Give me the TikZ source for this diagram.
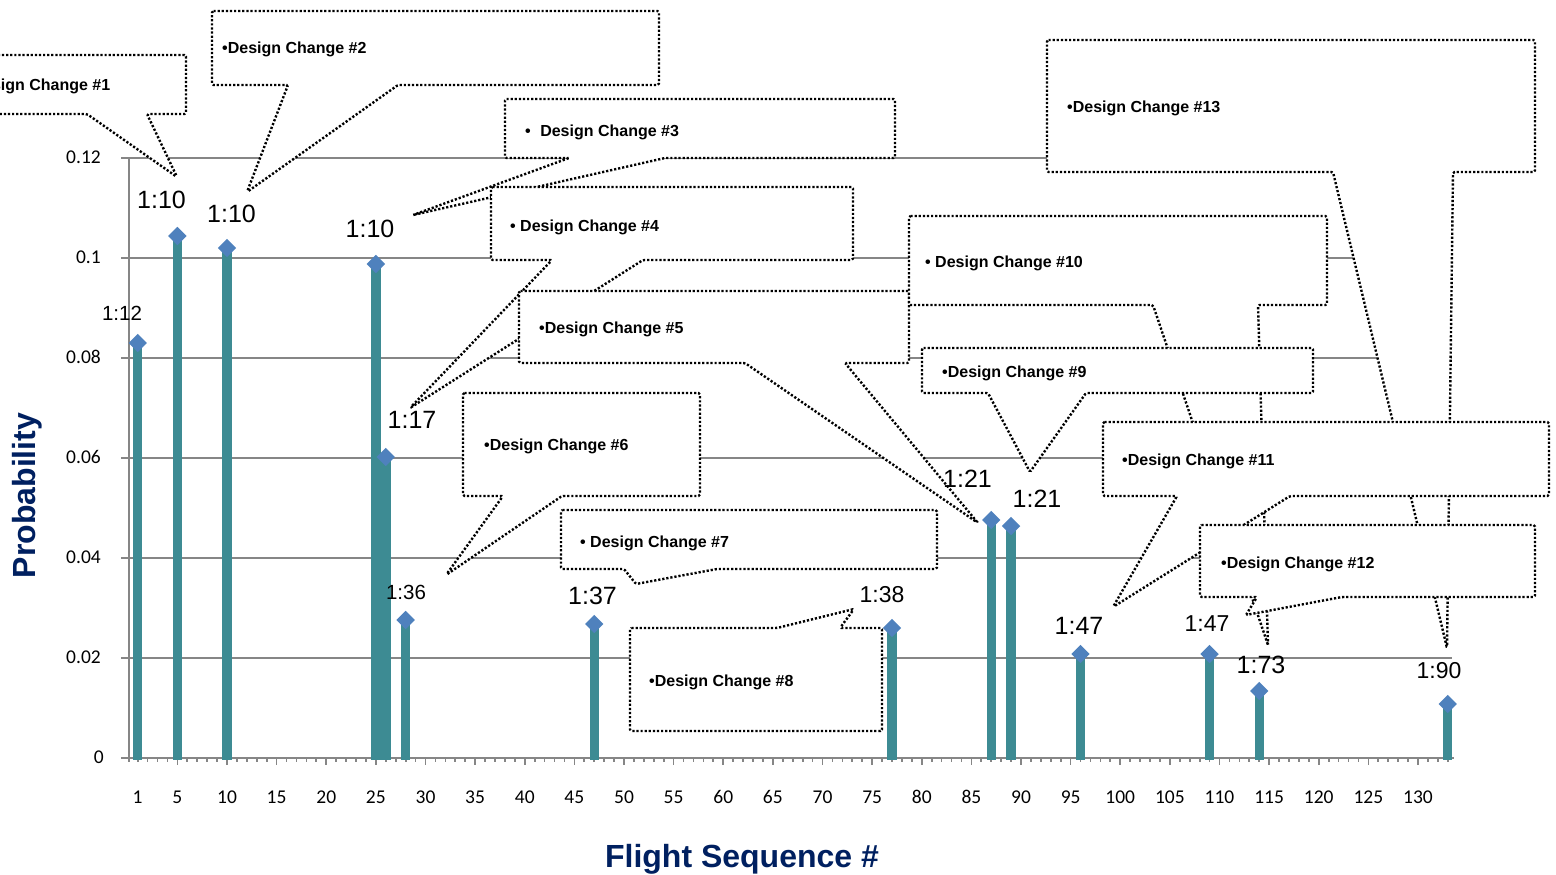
\documentclass[tikz,border=0pt]{standalone}
\usepackage{fontspec}
\setmainfont{Liberation Sans}
\newfontfamily\calibfont{Carlito}
\usetikzlibrary{shapes.geometric}
\definecolor{gridgray}{RGB}{134,134,134}
\definecolor{stemteal}{RGB}{61,139,147}
\definecolor{markblue}{RGB}{79,129,189}
\definecolor{titlenavy}{RGB}{0,32,96}
\begin{document}
\begin{tikzpicture}[x=1pt,y=-1pt,
  grid/.style={gridgray,line width=2.3pt},
  axisline/.style={gridgray,line width=2.7pt},
  tickmark/.style={gridgray,line width=1.7pt},
  stem/.style={fill=stemteal,draw=none},
  marker/.style={diamond,fill=markblue,draw=none,minimum size=18.5pt,inner sep=0pt},
  ratio/.style={font=\fontsize{25}{25}\selectfont,inner sep=0pt,anchor=base},
  ratiosmall/.style={ratio,font=\fontsize{20.5}{20.5}\selectfont},
  ratiomid/.style={ratio,font=\fontsize{23}{23}\selectfont},
  callout/.style={draw=black,fill=white,line width=2.4pt,dash pattern=on 2.2pt off 1.9pt,rounded corners=1.5pt},
  dctext/.style={font=\bfseries\fontsize{16}{16}\selectfont,inner sep=0pt,anchor=base west},
  ticklabel/.style={font=\calibfont\fontsize{19.5}{19.5}\selectfont,inner sep=0pt},
  axistitle/.style={font=\bfseries\fontsize{32}{32}\selectfont,text=titlenavy,inner sep=0pt,anchor=base}
]
\useasboundingbox (0,0) rectangle (1556,875);
\clip (0,0) rectangle (1556,875);

% horizontal gridlines
\foreach \yy in {158,258,358,458,558,658}
  \draw[grid] (129,\yy) -- (1452,\yy);

% axes with their ticks
\draw[axisline] (129,157) -- (129,762);
\draw[axisline] (121,758) -- (1454,758);
\foreach \yy in {158,258,358,458,558,658}
  \draw[tickmark] (121,\yy) -- (129,\yy);
\foreach \n in {1,...,133} {
  \pgfmathsetmacro\xx{227+(\n-10)*9.925}
  \pgfmathsetmacro\tl{mod(\n,5)==0 ? 6.5 : 3.5}
  \draw[tickmark] (\xx,758) -- (\xx,758+\tl);
}

% tick labels
\foreach \n in {1,5,10,15,...,130} {
  \pgfmathsetmacro\xx{227+(\n-10)*9.925}
  \node[ticklabel,anchor=base] (xl\n) at (\xx,803) {\n};
}
\foreach \v/\yy in {0.12/158,0.1/258,0.08/358,0.06/458,0.04/558,0.02/658}
  \node[ticklabel,anchor=base east] at (101,\yy+5.5) {\v};
\node[ticklabel,anchor=base east] (yl0) at (104,763.5) {0};

% axis titles
\node[axistitle,rotate=90] (ytitle) at (35,495.5) {Probability};
\node[axistitle] (xtitle) at (742,867) {Flight Sequence \#};

% stems and markers
\foreach \n/\yy in {1/343,5/236,10/248,25/264,26/457,28/620,47/624,77/628,87/520,89/526,96/654,109/654,114/691,133/704} {
  \pgfmathsetmacro\xx{227+(\n-10)*9.925}
  \fill[stem] (\xx-4.7,760) rectangle (\xx+4.7,\yy);
  \node[marker] (pt\n) at (\xx,\yy) {};
}

% design change callouts
\draw[callout] (-20,55) -- (186,55) -- (186,114) -- (147,114) -- (177,177) -- (87,114) -- (-20,114) -- cycle;
\node[dctext,anchor=base east] (dc1) at (110.5,90) {•Design Change \#1};

\draw[callout] (212,11) -- (659,11) -- (659,85) -- (398,85) -- (247,192) -- (288,85) -- (212,85) -- cycle;
\node[dctext] (dc2) at (222,54) {•Design Change \#2};

\draw[callout] (505,99) -- (895,99) -- (895,158) -- (665,158) -- (413,215) -- (569,158) -- (505,158) -- cycle;
\node[dctext] (dc3) at (525,136) {•\hspace{9.5pt}Design Change \#3};

\draw[callout] (491,187) -- (853,187) -- (853,260) -- (643,260) -- (410,408) -- (552,260) -- (491,260) -- cycle;
\node[dctext] (dc4) at (510,231) {• Design Change \#4};

\draw[callout] (519,291) -- (909,291) -- (909,363) -- (845,363) -- (978,523) -- (745,363) -- (519,363) -- cycle;
\node[dctext] (dc5) at (539,333) {•Design Change \#5};

\draw[callout] (463,393) -- (700,393) -- (700,496) -- (562,496) -- (446,575) -- (503,496) -- (463,496) -- cycle;
\node[dctext] (dc6) at (484,450) {•Design Change \#6};

\draw[callout] (561,510) -- (937,510) -- (937,569) -- (717,569) -- (636,584) -- (624,569) -- (561,569) -- cycle;
\node[dctext] (dc7) at (580,547) {• Design Change \#7};

\draw[callout] (630,628) -- (777,628) -- (854,609) -- (840,628) -- (882,628) -- (882,731) -- (630,731) -- cycle;
\node[dctext] (dc8) at (649,686) {•Design Change \#8};

\draw[callout] (909,216) -- (1327,216) -- (1327,305) -- (1258,305) -- (1268,645) -- (1153,305) -- (909,305) -- cycle;
\node[dctext] (dc10) at (925,267) {• Design Change \#10};

\draw[callout] (922,348) -- (1313,348) -- (1313,393) -- (1086,393) -- (1030,472) -- (988,393) -- (922,393) -- cycle;
\node[dctext] (dc9) at (942,377) {•Design Change \#9};

\draw[callout] (1047,40) -- (1535,40) -- (1535,172) -- (1453,172) -- (1447,648) -- (1333,172) -- (1047,172) -- cycle;
\node[dctext] (dc13) at (1067,112) {•Design Change \#13};

\draw[callout] (1103,422) -- (1549,422) -- (1549,496) -- (1290,496) -- (1113,607) -- (1177,496) -- (1103,496) -- cycle;
\node[dctext] (dc11) at (1122,465) {•Design Change \#11};

\draw[callout] (1200,525) -- (1535,525) -- (1535,597) -- (1342,597) -- (1246,615) -- (1257,597) -- (1200,597) -- cycle;
\node[dctext] (dc12) at (1221,568) {•Design Change \#12};

% ratio labels above the markers
\node[ratiosmall] (r1)   at (122,320)   {1:12};
\node[ratio]      (r5)   at (161.5,208) {1:10};
\node[ratio]      (r10)  at (231.5,222) {1:10};
\node[ratio]      (r25)  at (370,237)   {1:10};
\node[ratio]      (r26)  at (412,428)   {1:17};
\node[ratiosmall] (r28)  at (406,599)   {1:36};
\node[ratio]      (r47)  at (592.5,604) {1:37};
\node[ratiomid]   (r77)  at (882,602)   {1:38};
\node[ratio]      (r87)  at (967.5,487) {1:21};
\node[ratio]      (r89)  at (1037,507)  {1:21};
\node[ratio]      (r96)  at (1079,634)  {1:47};
\node[ratiomid]   (r109) at (1207,631)  {1:47};
\node[ratio]      (r114) at (1261,673)  {1:73};
\node[ratiomid]   (r133) at (1439,678)  {1:90};
\end{tikzpicture}
\end{document}
